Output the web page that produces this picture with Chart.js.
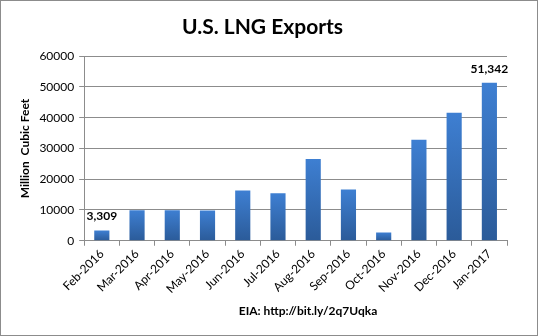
<!DOCTYPE html>
<html>
<head>
<meta charset="utf-8">
<script src="https://cdn.jsdelivr.net/npm/chart.js@4"></script>
<style>
html,body{margin:0;padding:0;background:#fff;}
#wrap{width:538px;height:336px;position:relative;}
</style>
</head>
<body>
<div id="wrap"><canvas id="c" width="538" height="336"></canvas></div>
<script>
const categories = ["Feb-2016","Mar-2016","Apr-2016","May-2016","Jun-2016","Jul-2016","Aug-2016","Sep-2016","Oct-2016","Nov-2016","Dec-2016","Jan-2017"];
const exportsMcf = [3309, 9950, 9950, 9800, 16300, 15400, 26600, 16700, 2700, 32800, 41600, 51342];
const labelledPoints = [0, 11];
const yTicks = [0, 10000, 20000, 30000, 40000, 50000, 60000];
const titleText = "U.S. LNG Exports";
const yTitle = "Million  Cubic Feet";
const sourceText = "EIA: http://bit.ly/2q7Uqka";

const FONT = "Lato, 'Open Sans', sans-serif";

const frame = {
  id: 'frame',
  beforeDraw(chart) {
    const c = chart.ctx;
    c.save();
    c.fillStyle = '#fff';
    c.fillRect(0, 0, chart.width, chart.height);
    c.restore();
  },
  afterDraw(chart) {
    const c = chart.ctx;
    c.save();
    c.strokeStyle = '#8c8c8c';
    c.lineWidth = 1;
    c.strokeRect(0.5, 0.5, chart.width - 1, chart.height - 1);
    c.fillStyle = '#000';
    c.font = "bold 12px " + FONT;
    c.textAlign = 'center';
    c.textBaseline = 'middle';
    c.fillText(sourceText, 308, 311);
    const meta = chart.getDatasetMeta(0);
    c.font = "bold 12px " + FONT;
    c.textBaseline = 'bottom';
    labelledPoints.forEach(i => {
      const el = meta.data[i];
      c.fillText(exportsMcf[i].toLocaleString('en-US'), el.x, el.y - 8);
    });
    c.restore();
  }
};

new Chart(document.getElementById('c'), {
  type: 'bar',
  data: {
    labels: categories,
    datasets: [{
      data: exportsMcf,
      backgroundColor(ctx) {
        const chart = ctx.chart;
        const y = chart.scales && chart.scales.y;
        if (!y || ctx.raw === undefined) return '#3670b8';
        const top = y.getPixelForValue(ctx.raw);
        const bot = y.getPixelForValue(0);
        if (!isFinite(top) || !isFinite(bot) || top === bot) return '#3670b8';
        const g = chart.ctx.createLinearGradient(0, top, 0, bot);
        g.addColorStop(0, '#3e7fd2');
        g.addColorStop(1, '#2b5b99');
        return g;
      },
      borderWidth: 0,
      barPercentage: 0.43,
      categoryPercentage: 1.0
    }]
  },
  options: {
    responsive: false,
    animation: false,
    layout: { padding: { left: 18, right: 31, top: 0, bottom: 39 } },
    plugins: {
      legend: { display: false },
      tooltip: { enabled: false },
      title: {
        display: true,
        text: titleText,
        color: '#000',
        font: { family: FONT, size: 21, weight: 'bold' },
        padding: { top: 15, bottom: 16 }
      }
    },
    scales: {
      x: {
        grid: { display: true, drawOnChartArea: false, offset: true, color: '#8c8c8c', tickLength: 5, tickColor: '#8c8c8c' },
        border: { display: true, color: '#8c8c8c' },
        ticks: { color: '#000', font: { family: FONT, size: 12 }, maxRotation: 45, minRotation: 45, padding: 1 },
      },
      y: {
        min: 0, max: 60000,
        afterBuildTicks(scale) { scale.ticks = yTicks.map(v => ({ value: v })); },
        grid: { color: '#8c8c8c', tickLength: 5, tickColor: '#8c8c8c' },
        border: { display: true, color: '#8c8c8c' },
        ticks: { color: '#000', font: { family: FONT, size: 12 }, padding: 5, callback: v => String(v) },
        title: { display: true, text: yTitle, color: '#000', font: { family: FONT, size: 12, weight: 'bold' }, padding: { top: 0, bottom: 2 } }
      }
    }
  },
  plugins: [frame]
});
</script>
</body>
</html>
